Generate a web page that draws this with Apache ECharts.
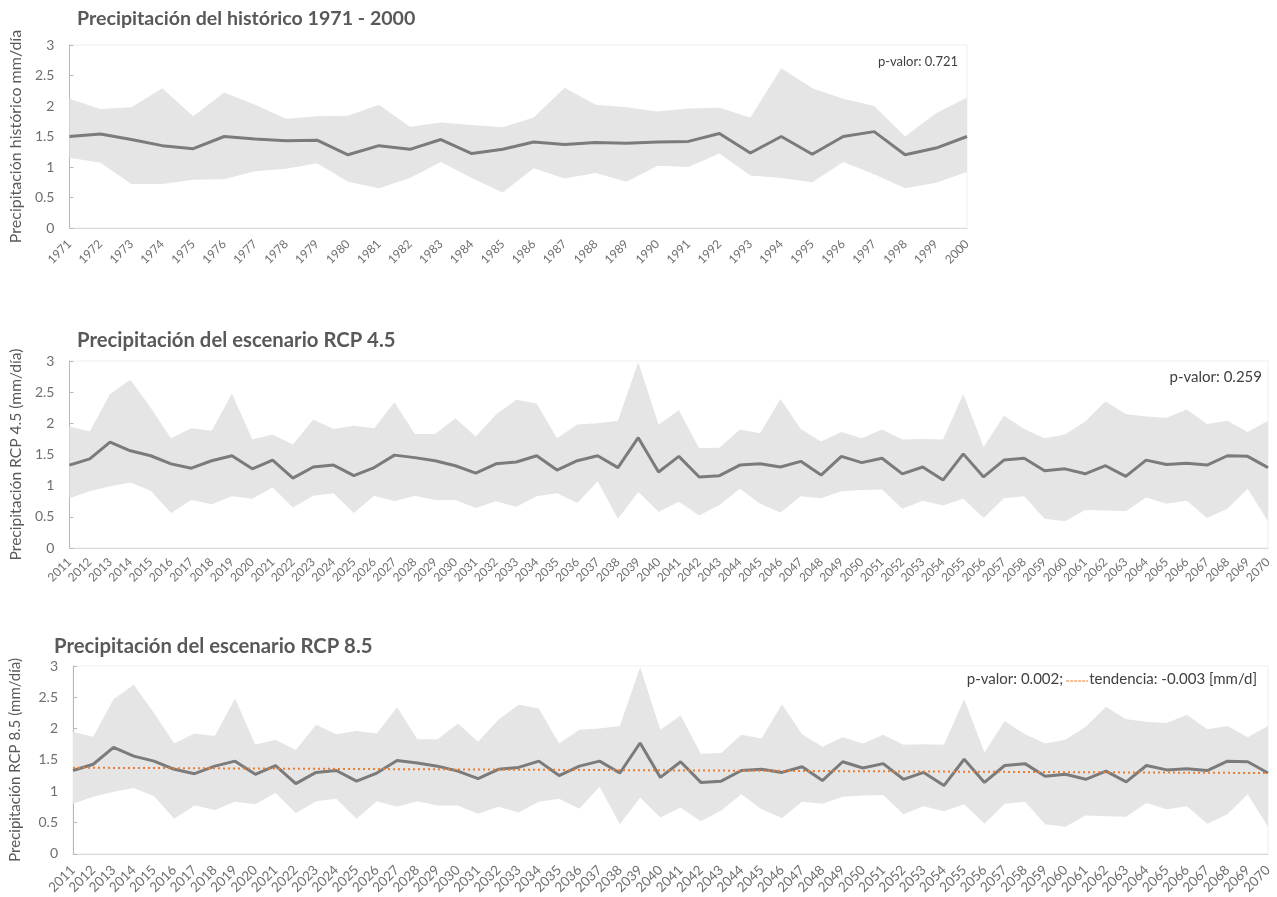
<!DOCTYPE html>
<html>
<head>
<meta charset="utf-8">
<script src="https://cdn.jsdelivr.net/npm/echarts@6/dist/echarts.min.js"></script>
<style>
  html, body { margin: 0; padding: 0; background: #ffffff; }
  #chart { width: 1277px; height: 897px; }
</style>
</head>
<body>
<div id="chart"></div>
<script>
// ---- Historical period 1971-2000 ----
const histYears = ['1971','1972','1973','1974','1975','1976','1977','1978','1979','1980',
  '1981','1982','1983','1984','1985','1986','1987','1988','1989','1990',
  '1991','1992','1993','1994','1995','1996','1997','1998','1999','2000'];
const histMean = [1.50,1.54,1.45,1.35,1.30,1.50,1.46,1.43,1.44,1.20,
  1.35,1.29,1.45,1.22,1.29,1.41,1.37,1.40,1.39,1.41,
  1.42,1.55,1.23,1.50,1.21,1.50,1.58,1.20,1.31,1.50];
const histMax = [2.12,1.95,1.98,2.29,1.83,2.22,2.02,1.79,1.83,1.84,
  2.02,1.66,1.73,1.69,1.65,1.81,2.30,2.02,1.98,1.91,
  1.96,1.97,1.81,2.62,2.29,2.12,2.00,1.50,1.88,2.14];
const histMin = [1.15,1.07,0.72,0.72,0.79,0.80,0.93,0.97,1.06,0.76,
  0.65,0.82,1.08,0.82,0.58,0.98,0.81,0.90,0.76,1.02,
  1.00,1.22,0.86,0.82,0.75,1.08,0.88,0.65,0.74,0.92];

// ---- Scenario period 2011-2070 ----
const futYears = ['2011','2012','2013','2014','2015','2016','2017','2018','2019','2020',
  '2021','2022','2023','2024','2025','2026','2027','2028','2029','2030',
  '2031','2032','2033','2034','2035','2036','2037','2038','2039','2040',
  '2041','2042','2043','2044','2045','2046','2047','2048','2049','2050',
  '2051','2052','2053','2054','2055','2056','2057','2058','2059','2060',
  '2061','2062','2063','2064','2065','2066','2067','2068','2069','2070'];
const rcp45Mean = [1.33,1.43,1.70,1.56,1.48,1.35,1.28,1.40,1.48,1.27,
  1.41,1.12,1.30,1.33,1.16,1.29,1.49,1.45,1.40,1.32,
  1.20,1.35,1.38,1.48,1.25,1.40,1.48,1.29,1.77,1.22,
  1.47,1.14,1.16,1.33,1.35,1.30,1.39,1.17,1.47,1.37,
  1.44,1.19,1.30,1.09,1.51,1.14,1.41,1.44,1.24,1.27,
  1.19,1.32,1.15,1.41,1.34,1.36,1.33,1.48,1.47,1.29];
const rcp45Max = [1.95,1.87,2.47,2.70,2.25,1.76,1.92,1.88,2.48,1.74,
  1.82,1.66,2.06,1.91,1.96,1.92,2.34,1.83,1.83,2.08,
  1.79,2.14,2.38,2.32,1.76,1.98,2.00,2.04,2.98,1.98,
  2.21,1.60,1.61,1.90,1.84,2.39,1.91,1.71,1.86,1.76,
  1.90,1.74,1.75,1.74,2.47,1.62,2.12,1.91,1.76,1.82,
  2.03,2.35,2.15,2.11,2.09,2.22,1.99,2.04,1.86,2.04];
const rcp45Min = [0.80,0.91,0.99,1.05,0.92,0.56,0.77,0.70,0.83,0.79,
  0.97,0.65,0.84,0.88,0.56,0.84,0.75,0.84,0.77,0.77,
  0.64,0.75,0.66,0.83,0.88,0.72,1.07,0.47,0.90,0.58,
  0.74,0.52,0.69,0.95,0.71,0.57,0.83,0.80,0.91,0.93,
  0.94,0.63,0.76,0.68,0.79,0.48,0.80,0.83,0.47,0.43,
  0.61,0.60,0.59,0.81,0.71,0.76,0.48,0.63,0.95,0.43];

// RCP 8.5 panel: ensemble mean and range
const rcp85Mean = rcp45Mean.slice();
const rcp85Max = rcp45Max.slice();
const rcp85Min = rcp45Min.slice();
// linear trend values at 2011 and 2070
const rcp85TrendEnds = [1.375, 1.29];

const yTicks = { min: 0, max: 3, interval: 0.5 };

const FONT = 'Lato';
const TITLE = '#595959';
const LABEL = '#6f6f6f';
const NOTE = '#404040';
const YAXIS = '#b8b8b8';
const XAXIS = '#d9d9d9';
const BAND = '#e5e5e5';
const MEAN = '#7b7b7b';
const TREND = '#ed7d31';

const grids = [
  { left: 69, right: 310, top: 45, height: 183 },
  { left: 69, right: 9, top: 361, height: 187 },
  { left: 71, right: 9, top: 666, height: 188 }
].map(g => Object.assign({ show: true, borderColor: '#efefef', borderWidth: 1, backgroundColor: 'transparent' }, g));

function xAxis(idx, cats, fontSize, margin) {
  return {
    type: 'category', gridIndex: idx, data: cats, boundaryGap: false,
    axisLine: { show: true, lineStyle: { color: XAXIS, width: 1 } },
    axisTick: { show: false },
    splitLine: { show: false },
    axisLabel: { rotate: 45, interval: 0, color: LABEL, fontSize: fontSize, margin: margin, fontFamily: FONT }
  };
}

function yAxis(idx, name, gap, nameSize) {
  return {
    type: 'value', gridIndex: idx, min: yTicks.min, max: yTicks.max, interval: yTicks.interval,
    name: name, nameLocation: 'middle', nameGap: gap,
    nameTextStyle: { color: TITLE, fontSize: nameSize, fontFamily: FONT },
    axisLine: { show: true, lineStyle: { color: YAXIS, width: 1 } },
    axisTick: { show: true, inside: true, length: 4, lineStyle: { color: YAXIS } },
    splitLine: { show: false },
    axisLabel: { color: LABEL, fontSize: 14, margin: 15, fontFamily: FONT }
  };
}

// min-max range drawn as a stacked area: transparent base + filled width
function bandSeries(idx, lower, upper) {
  const width = upper.map((v, i) => Math.round((v - lower[i]) * 1000) / 1000);
  return [
    { type: 'line', xAxisIndex: idx, yAxisIndex: idx, data: lower, stack: 'band' + idx,
      symbol: 'none', lineStyle: { opacity: 0 }, silent: true },
    { type: 'line', xAxisIndex: idx, yAxisIndex: idx, data: width, stack: 'band' + idx,
      symbol: 'none', lineStyle: { opacity: 0 }, areaStyle: { color: BAND, opacity: 1 }, silent: true }
  ];
}

function meanSeries(idx, values) {
  return { type: 'line', xAxisIndex: idx, yAxisIndex: idx, data: values, symbol: 'none',
    lineStyle: { color: MEAN, width: 3 }, z: 3, silent: true };
}

const trendData = futYears.map((_, i) =>
  i === 0 ? rcp85TrendEnds[0] : (i === futYears.length - 1 ? rcp85TrendEnds[1] : null));

function titleStyle(size) {
  return { fontSize: size, fontWeight: 'bold', color: TITLE, fontFamily: FONT };
}
function note(text, size) {
  return { text: text, fill: NOTE, fontSize: size, fontFamily: FONT };
}

// lay out the trend legend of the last panel from its right edge
const measureCtx = document.createElement('canvas').getContext('2d');
function textWidth(str, size) {
  measureCtx.font = size + 'px ' + FONT;
  return measureCtx.measureText(str).width;
}
const legendSize = 15;
const legendRight = 1257;
const trendLabel = 'tendencia: -0.003 [mm/d]';
const trendLabelLeft = legendRight - textWidth(trendLabel, legendSize);
const keyX2 = trendLabelLeft - 1;
const keyX1 = keyX2 - 22;

const option = {
  animation: false,
  backgroundColor: '#ffffff',
  title: [
    { text: 'Precipitación del histórico 1971 - 2000', left: 77, top: 9, padding: 0, textStyle: titleStyle(19.6) },
    { text: 'Precipitación del escenario RCP 4.5', left: 77, top: 330, padding: 0, textStyle: titleStyle(20.3) },
    { text: 'Precipitación del escenario RCP 8.5', left: 54, top: 636, padding: 0, textStyle: titleStyle(20.3) }
  ],
  grid: grids,
  xAxis: [xAxis(0, histYears, 12, 14), xAxis(1, futYears, 12, 12), xAxis(2, futYears, 13.5, 14)],
  yAxis: [
    yAxis(0, 'Precipitación histórico mm/día', 42, 16),
    yAxis(1, 'Precipitación RCP 4.5 (mm/día)', 41, 15.6),
    yAxis(2, 'Precipitación RCP 8.5 (mm/día)', 50, 15)
  ],
  series: [
    ...bandSeries(0, histMin, histMax),
    meanSeries(0, histMean),
    ...bandSeries(1, rcp45Min, rcp45Max),
    meanSeries(1, rcp45Mean),
    ...bandSeries(2, rcp85Min, rcp85Max),
    meanSeries(2, rcp85Mean),
    { type: 'line', xAxisIndex: 2, yAxisIndex: 2, data: trendData, connectNulls: true,
      symbol: 'none', lineStyle: { color: TREND, width: 2, type: [2, 3] }, z: 4, silent: true }
  ],
  graphic: [
    { type: 'text', right: 1277 - 958, top: 55, style: note('p-valor: 0.721', 13) },
    { type: 'text', right: 1277 - 1262, top: 370, style: note('p-valor: 0.259', 15) },
    { type: 'text', left: trendLabelLeft, top: 672, style: note(trendLabel, legendSize) },
    { type: 'line', shape: { x1: keyX1, y1: 681, x2: keyX2, y2: 681 },
      style: { stroke: TREND, lineWidth: 1, lineDash: [3, 1] } },
    { type: 'text', right: 1277 - (keyX1 - 3), top: 672, style: note('p-valor: 0.002;', legendSize) }
  ]
};

const chart = echarts.init(document.getElementById('chart'), null, { renderer: 'canvas' });
chart.setOption(option);
</script>
</body>
</html>
